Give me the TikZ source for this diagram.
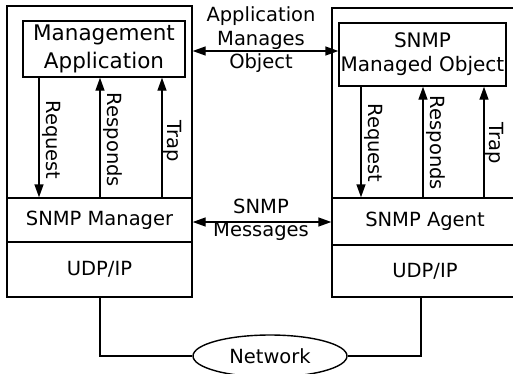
\documentclass[tikz,border=0pt]{standalone}
\usepackage{fontspec}
\setmainfont{DejaVu Sans}
\usetikzlibrary{arrows.meta,shapes.geometric}
\tikzset{
  base/.style={line width=1.4pt},
  frame/.style={base, draw, rectangle, inner sep=0pt},
  txt/.style={font=\fontsize{19.5}{23.5}\selectfont, align=center, inner sep=0pt},
  bigtxt/.style={font=\fontsize{21.5}{28}\selectfont, align=center},
  lbl/.style={txt, rotate=-90},
  arr/.style={base, -{Triangle[length=13pt,width=9pt]}},
  darr/.style={base, {Triangle[length=13pt,width=9pt]}-{Triangle[length=13pt,width=9pt]}},
  wire/.style={base}
}
\begin{document}
\begin{tikzpicture}[x=1pt,y=-1pt]
\useasboundingbox (0,0) rectangle (513,373);

% manager host
\node[frame, minimum width=185pt, minimum height=291pt] (lhost) at (99.5,151.5) {};
\node[frame, bigtxt, minimum width=162pt, minimum height=56pt] (mapp) at (104,49)
  {Management\\Application};
\node[frame, txt, minimum width=185pt, minimum height=44pt] (lmgr) at (99.5,220) {SNMP Manager};
\node[frame, txt, minimum width=185pt, minimum height=55pt] (ludp) at (99.5,269.5) {UDP/IP};

% agent host
\node[frame, minimum width=186pt, minimum height=289pt] (rhost) at (425,152.5) {};
\node[frame, bigtxt, font=\fontsize{20}{24}\selectfont, minimum width=167pt, minimum height=63pt] (robj) at (422.5,54.5)
  {SNMP\\Managed Object};
\node[frame, txt, minimum width=186pt, minimum height=47pt] (ragent) at (425,221.5) {SNMP Agent};
\node[frame, txt, minimum width=186pt, minimum height=52pt] (rudp) at (425,271) {UDP/IP};

% network
\node[base, draw, ellipse, txt, minimum width=154pt, minimum height=42pt] (net) at (270,356) {Network};

% vertical positions of the message lines
\coordinate (xreqL) at (39,0);
\coordinate (xresL) at (100,0);
\coordinate (xtrpL) at (162,0);
\coordinate (xreqR) at (361,0);
\coordinate (xresR) at (423,0);
\coordinate (xtrpR) at (484,0);
\coordinate (xnetL) at (100,0);
\coordinate (xnetR) at (421,0);
\coordinate (yapp) at (0,51);
\coordinate (ymsg) at (0,222);

% manager side primitives
\draw[arr] (xreqL |- mapp.south) -- (xreqL |- lmgr.north);
\draw[arr] (xresL |- lmgr.north) -- (xresL |- mapp.south);
\draw[arr] (xtrpL |- lmgr.north) -- (xtrpL |- mapp.south);
\node[lbl] (lreq) at (52,140) {Request};
\node[lbl] (lres) at (113,140) {Responds};
\node[lbl] (ltrp) at (173,141) {Trap};

% agent side primitives
\draw[arr] (xreqR |- robj.south) -- (xreqR |- ragent.north);
\draw[arr] (xresR |- ragent.north) -- (xresR |- robj.south);
\draw[arr] (xtrpR |- ragent.north) -- (xtrpR |- robj.south);
\node[lbl] (rreq) at (374,143) {Request};
\node[lbl] (rres) at (436,143) {Responds};
\node[lbl] (rtrp) at (495,143) {Trap};

% peer relations
\draw[darr] (lhost.east |- yapp) -- (robj.west |- yapp);
\node[txt] (applbl) at (261,40) {Application\\Manages\\Object};
\draw[darr] (lmgr.east |- ymsg) -- (ragent.west |- ymsg);
\node[txt] (msglbl) at (261,220) {SNMP\\Messages};

% links to the network
\draw[wire] (xnetL |- ludp.south) -- (xnetL |- net.west) -- (net.west);
\draw[wire] (xnetR |- rudp.south) -- (xnetR |- net.east) -- (net.east);
\end{tikzpicture}
\end{document}
